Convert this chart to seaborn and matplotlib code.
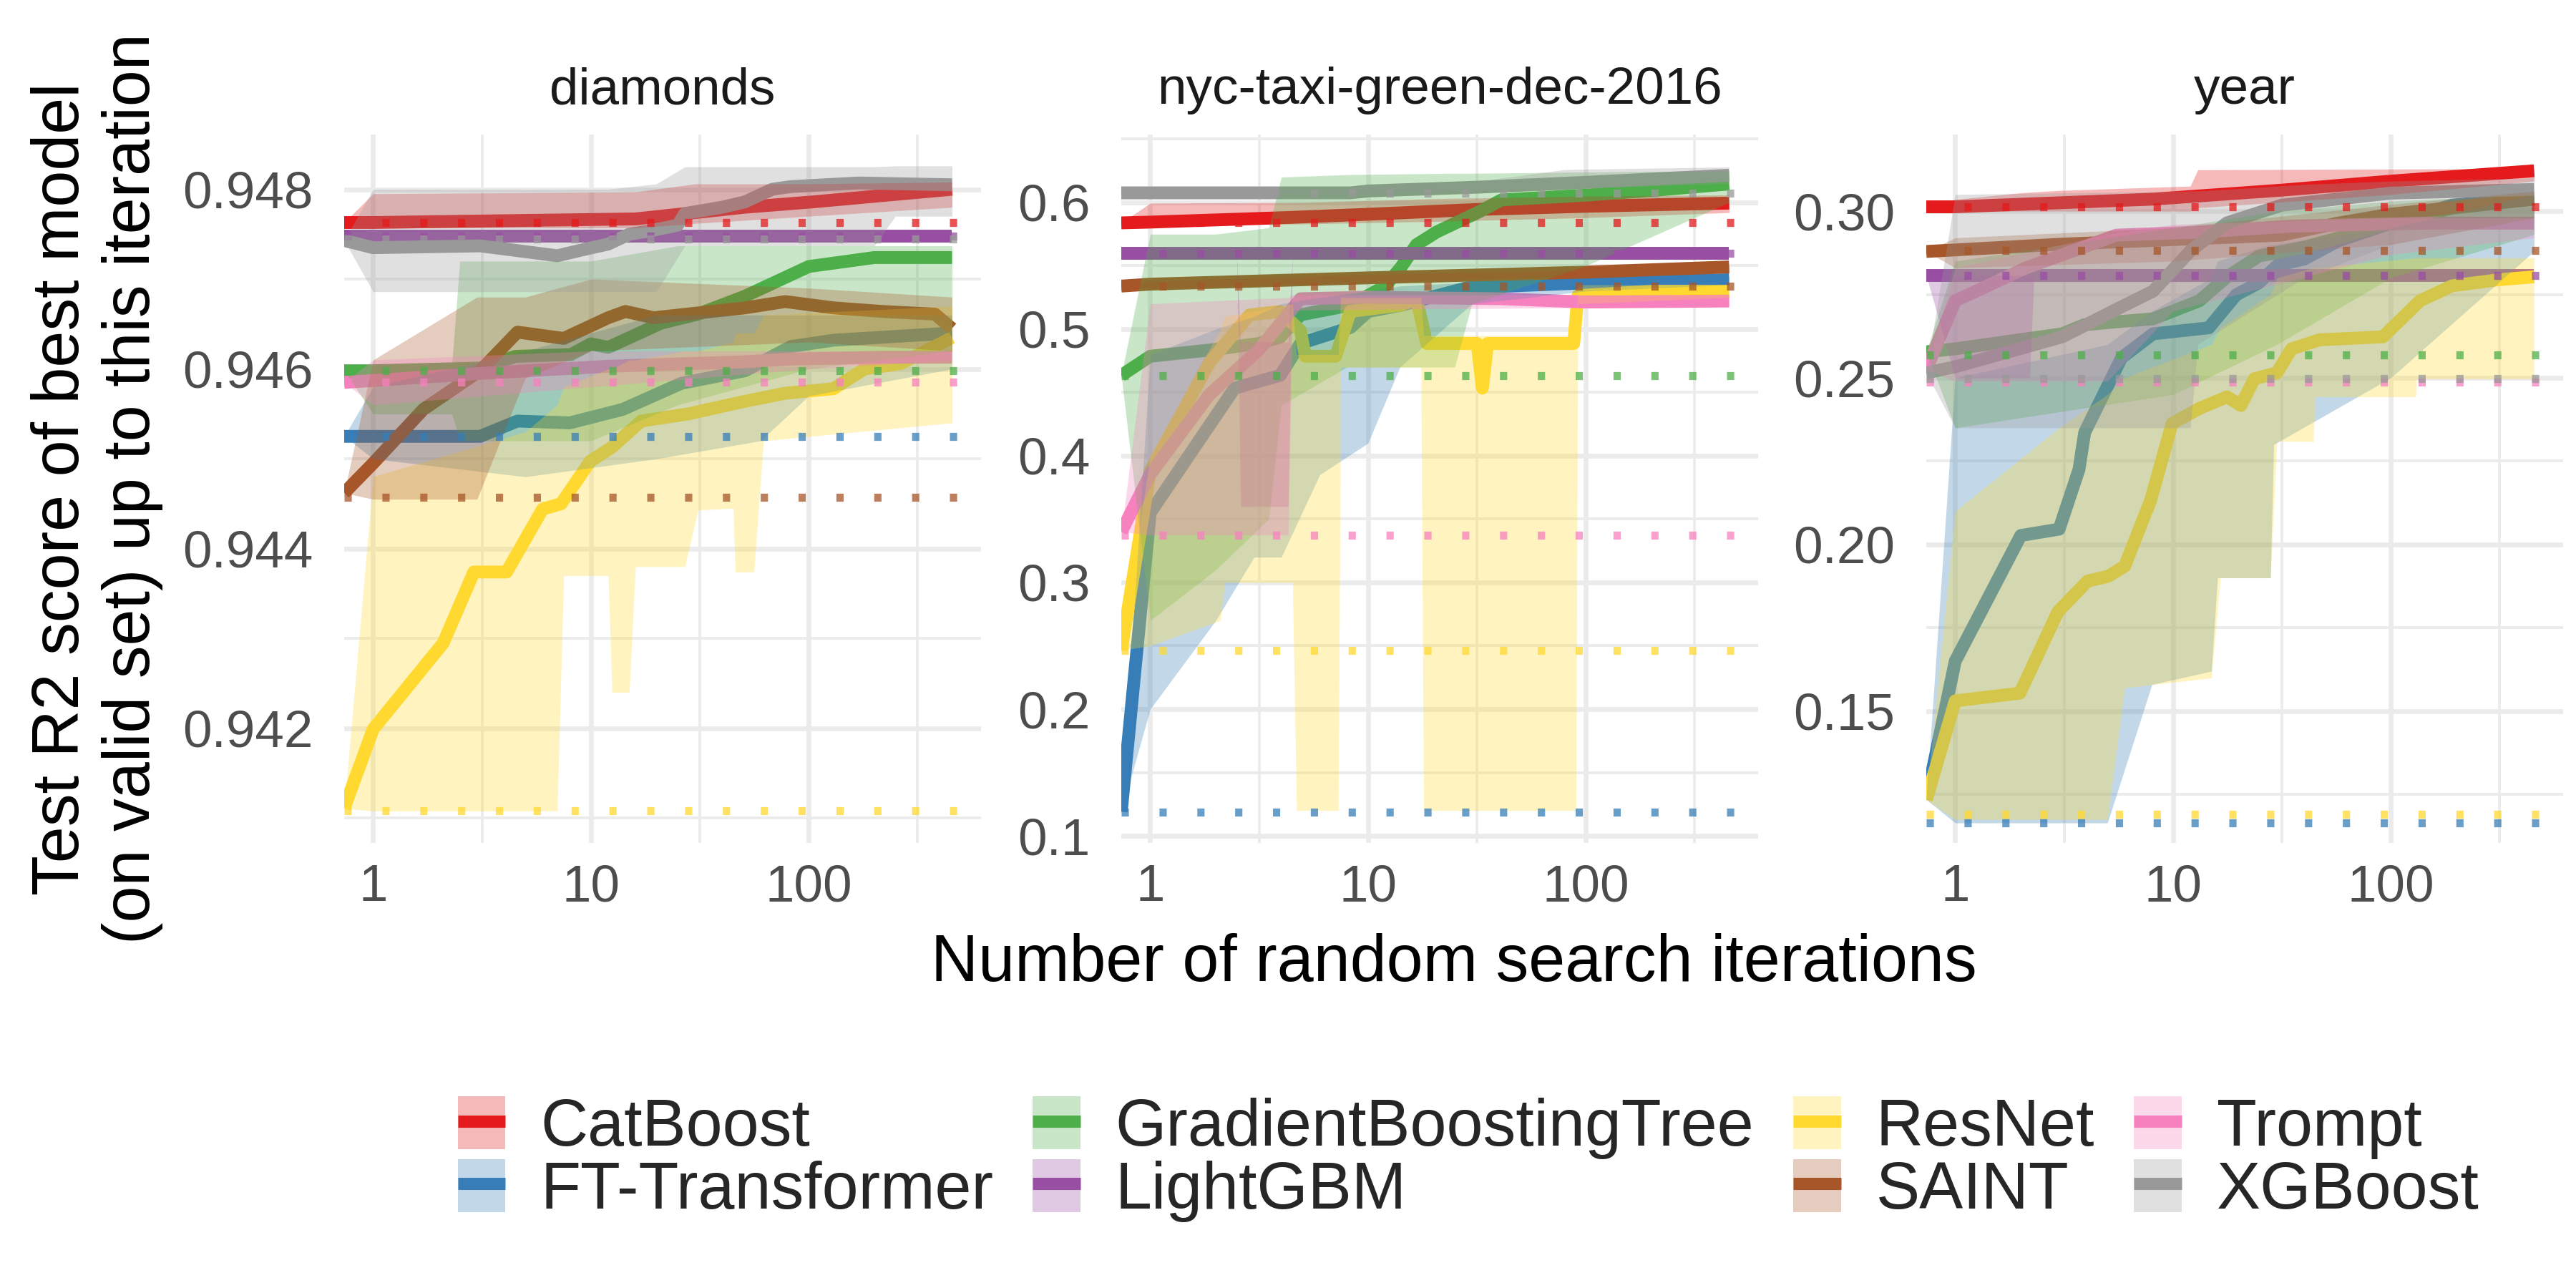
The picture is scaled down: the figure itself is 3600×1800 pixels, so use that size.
import matplotlib
matplotlib.use("Agg")
import matplotlib.pyplot as plt
from matplotlib.lines import Line2D
from matplotlib.patches import Patch
from matplotlib.ticker import FixedLocator, FixedFormatter, NullFormatter
import pandas as pd
import seaborn as sns

MODELS = ["CatBoost", "FT-Transformer", "GradientBoostingTree", "LightGBM",
          "ResNet", "SAINT", "Trompt", "XGBoost"]
COLORS = ["#E41A1C", "#377EB8", "#4DAF4A", "#984EA3",
          "#FFD92F", "#A65628", "#F781BF", "#999999"]
PANELS = ["diamonds", "nyc-taxi-green-dec-2016", "year"]

# (iteration, median test R2) ; iteration 0 = default config
DIAMONDS_LINE = {
    "CatBoost": [(0, .94763), (1, .94763), (16, .94767), (51, .9478), (105, .94786), (218, .94793), (455, .9480)],
    "FT-Transformer": [(0, .94525), (1, .94525), (3.1, .94525), (4.6, .94542), (8, .9454), (14, .94555),
                       (26, .94584), (51, .94598), (83, .94625), (130, .94632), (390, .94639), (455, .9464)],
    "GradientBoostingTree": [(0, .94598), (1, .94598), (3.1, .94601), (4.5, .94614), (8.1, .94616), (10, .94628),
                             (12, .94624), (21, .94651), (31, .94661), (51, .94681), (100, .94714), (200, .94724),
                             (455, .94724)],
    "LightGBM": [(0, .94748), (455, .94748)],
    "ResNet": [(0, .94111), (1, .94199), (2.1, .94295), (2.9, .94374), (4.1, .94374), (6, .94444), (7.3, .9445),
               (9.9, .94497), (12.5, .94513), (17, .94542), (28, .9455), (51, .94564), (78, .94573), (130, .94578),
               (180, .946), (265, .94606), (400, .94628), (455, .94635)],
    "SAINT": [(0, .94462), (1, .94495), (1.7, .94555), (3.1, .94598), (4.6, .94641), (7.5, .94634), (12, .94657),
              (14.4, .94664), (19.4, .94657), (51, .94668), (78, .94675), (130, .94668), (218, .94664),
              (380, .94661), (455, .94645)],
    "Trompt": [(0, .94585), (3.1, .94595), (12, .94603), (51, .94608), (83, .94611), (218, .94613), (455, .94613)],
    "XGBoost": [(0, .94743), (1, .94735), (3.1, .94737), (4.5, .94732), (7, .94726), (9.3, .94733), (12, .94739),
                (15, .9475), (19, .94754), (25, .9476), (27, .94773), (40, .9478), (51, .94786), (68, .948),
                (83, .94803), (170, .94807), (455, .94805)],
}
# (iteration, lower, upper)
DIAMONDS_BAND = {
    "CatBoost": [(0, .94763, .94763), (1, .94757, .94795), (16, .94757, .94797), (30, .94762, .94806),
                 (100, .9477, .94806), (455, .9478, .94808)],
    "FT-Transformer": [(0, .94525, .94525), (1, .945, .9458), (5, .9448, .9462), (20, .945, .9466),
                       (60, .9452, .9466), (100, .9457, .9466), (455, .946, .9466)],
    "GradientBoostingTree": [(0, .94598, .94598), (1, .9455, .94605), (2.3, .9455, .94605), (2.5, .9452, .9472),
                             (10, .9452, .9472), (25, .9456, .94737), (100, .946, .94737), (455, .9462, .94737)],
    "LightGBM": [(0, .94748, .94748), (455, .94748, .94748)],
    "ResNet": [(0, .94111, .94111), (1, .94108, .9448), (5, .94108, .9453), (7, .94108, .9456), (7.5, .9437, .9458),
               (12, .9437, .946), (12.5, .9424, .946), (15, .9424, .9461), (16, .9438, .9461), (27, .9438, .9462),
               (31, .94443, .9462), (45, .94445, .9463), (46, .94374, .9464), (56, .94374, .9464),
               (62, .9452, .9466), (455, .9454, .9467)],
    "SAINT": [(0, .94462, .94462), (1, .94455, .9461), (3, .94455, .9468), (5, .9459, .9468), (10, .9462, .947),
              (100, .9463, .9469), (455, .9462, .9468)],
    "Trompt": [(0, .94585, .94585), (1, .9456, .9461), (10, .9458, .9462), (100, .946, .9462), (455, .9461, .9462)],
    "XGBoost": [(0, .94743, .94743), (1, .94686, .948), (12, .94686, .948), (20, .94686, .94806),
                (27, .94737, .94825), (200, .94737, .94825), (250, .9477, .94826), (455, .9477, .94826)],
}
DIAMONDS_DEFAULT = [.94763, .94525, .94598, .94748, .94108, .94457, .94585, .94745]

NYC_LINE = {
    "CatBoost": [(0, .5839), (1, .5845), (4.4, .5882), (10, .5907), (32, .5945), (100, .597), (455, .5995)],
    "FT-Transformer": [(0, .119), (1, .355), (2.44, .4534), (3.95, .4635), (4.9, .4887), (8.3, .5013), (10, .5139),
                       (14.2, .5189), (28.5, .5327), (100, .5365), (455, .539)],
    "GradientBoostingTree": [(0, .4635), (1, .4786), (1.9, .4836), (3.15, .4887), (3.95, .4937), (4.9, .5113),
                             (8.3, .5189), (12, .534), (14.2, .5491), (16.7, .5667), (20.7, .5768), (31.7, .5919),
                             (41, .602), (100, .6058), (206, .6096), (455, .6146)],
    "LightGBM": [(0, .5597), (455, .5597)],
    "ResNet": [(0, .2465), (1, .388), (1.87, .4736), (2.86, .5113), (3.95, .5139), (4.9, .4987), (5.15, .4786),
               (7.1, .4786), (8.3, .514), (14.2, .519), (16.7, .524), (18.6, .4887), (31.7, .4887), (33.5, .4534),
               (35.4, .4887), (88, .4887), (92, .5265), (206, .53), (455, .53)],
    "SAINT": [(0, .534), (1, .5355), (10, .5405), (100, .545), (455, .5491)],
    "Trompt": [(0, .34), (1, .3854), (1.87, .4484), (3.15, .4836), (4.9, .524), (10, .5252), (41, .524),
               (100, .5214), (455, .5222)],
    "XGBoost": [(0, .6076), (1, .6076), (8.3, .6076), (10, .6091), (32, .6121), (100, .6159), (455, .6215)],
}
NYC_BAND = {
    "CatBoost": [(0, .5839, .5839), (1, .582, .5995), (5, .583, .6), (20, .585, .603), (100, .588, .605),
                 (455, .592, .606)],
    "FT-Transformer": [(0, .119, .119), (1, .2, .48), (2, .27, .5), (3, .32, .51), (4, .32, .52), (6, .385, .525),
                       (10, .41, .53), (14, .47, .534), (30, .52, .537), (100, .53, .54), (455, .535, .542)],
    "GradientBoostingTree": [(0, .4635, .4635), (1, .27, .575), (2, .31, .575), (3.5, .35, .58), (4, .44, .62),
                             (8, .47, .622), (25, .47, .623), (30, .52, .623), (100, .55, .624), (455, .6, .625)],
    "LightGBM": [(0, .5597, .5597), (2.5, .5597, .5597), (2.6, .36, .49), (4.3, .36, .49),
                 (4.5, .5597, .5597), (455, .5597, .5597)],
    "ResNet": [(0, .2465, .2465), (1, .25, .40), (2.1, .27, .50), (2.2, .30, .51), (4.5, .30, .52),
               (4.7, .12, .48), (7.3, .12, .48), (7.5, .47, .525), (17.5, .47, .525), (18, .12, .495),
               (90, .12, .495), (92, .52, .535), (455, .525, .535)],
    "SAINT": [(0, .534, .534), (1, .532, .538), (10, .537, .543), (100, .542, .547), (455, .546, .551)],
    "Trompt": [(0, .34, .34), (1, .3375, .52), (4.3, .3375, .525), (4.5, .515, .527), (455, .518, .527)],
    "XGBoost": [(0, .6076, .6076), (1, .607, .6085), (8, .607, .611), (10, .607, .614), (30, .609, .616),
                (80, .611, .626), (455, .615, .628)],
}
NYC_DEFAULT = [.5839, .1189, .4635, .5597, .2465, .534, .3375, .6076]

YEAR_LINE = {
    "CatBoost": [(0, .3013), (1, .3013), (8.1, .3036), (31.6, .3063), (100, .309), (455, .3121)],
    "FT-Transformer": [(0, .1235), (1, .165), (2, .2027), (3, .2046), (3.7, .2225), (3.93, .2336), (5.8, .256),
                       (8.1, .2632), (14.6, .265), (19.5, .2749), (24.8, .2785), (30.2, .2838), (40, .2856),
                       (57, .291), (100, .2964), (191, .3018), (455, .304)],
    "GradientBoostingTree": [(0, .2578), (1, .2587), (3.1, .2632), (3.9, .2659), (5.5, .2668), (8.1, .2677),
                             (13.2, .2731), (17.7, .2803), (24.8, .2865), (40, .2892), (57, .2919), (100, .2964),
                             (191, .3009), (455, .3036)],
    "LightGBM": [(0, .2807), (455, .2807)],
    "ResNet": [(0, .1234), (1, .1531), (1.98, .1554), (2.96, .1798), (4.05, .189), (5.05, .1905), (6, .1935),
               (7.9, .2133), (9.9, .2363), (13.2, .2408), (17.7, .2443), (20.5, .2417), (23.6, .2497), (30, .2515),
               (35, .2587), (47, .2614), (92, .2623), (112, .2677), (136, .2731), (191, .2776), (310, .2794),
               (455, .2803)],
    "SAINT": [(0, .2879), (3.1, .2901), (31.6, .2928), (57, .2964), (100, .2991), (243, .3018), (455, .3036)],
    "Trompt": [(0, .2525), (1, .2731), (2.1, .2829), (5.5, .2928), (13, .2937), (35, .2955), (150, .2964),
               (455, .2964)],
    "XGBoost": [(0, .2515), (1, .2533), (3.1, .2623), (5.8, .2713), (8.1, .276), (12, .288), (17.7, .2965),
                (31.6, .3018), (100, .3054), (455, .3065)],
}
YEAR_BAND = {
    "CatBoost": [(0, .3013, .3013), (1, .300, .3035), (2, .300, .3055), (3, .300, .3062), (12, .300, .3075),
                 (13, .301, .3124), (100, .305, .3126), (455, .309, .3128)],
    "FT-Transformer": [(0, .1235, .1235), (1, .1165, .25), (5, .1165, .26), (8, .158, .27), (15, .162, .28),
                       (16, .19, .285), (28, .19, .29), (29, .23, .29), (100, .25, .295), (455, .288, .305)],
    "GradientBoostingTree": [(0, .2578, .2578), (1, .235, .285), (10, .245, .295), (30, .26, .3),
                             (100, .28, .303), (455, .293, .305)],
    "LightGBM": [(0, .2807, .2807), (1, .25, .2807), (2.2, .25, .2807), (2.3, .2807, .2807), (455, .2807, .2807)],
    "ResNet": [(0, .1234, .1234), (1, .1175, .21), (3, .1175, .235), (5, .1175, .245), (6, .157, .25),
               (15, .16, .26), (16.5, .19, .265), (28, .19, .275), (30, .231, .28), (44, .2309, .283),
               (45, .2443, .283), (130, .2443, .286), (131, .2497, .286), (455, .2497, .286)],
    "SAINT": [(0, .2879, .2879), (1, .283, .292), (10, .285, .295), (100, .29, .302), (455, .298, .306)],
    "Trompt": [(0, .2525, .2525), (1, .249, .283), (5, .249, .293), (10, .27, .296), (100, .287, .298),
               (455, .292, .298)],
    "XGBoost": [(0, .2515, .2515), (1, .235, .305), (12, .235, .306), (13, .26, .306), (40, .28, .308),
                (100, .29, .309), (455, .298, .31)],
}
YEAR_DEFAULT = [.3013, .1165, .2569, .2807, .119, .2883, .2488, .2497]

X_MAX = 455
X_LO = X_MAX ** -0.05   # iteration 0 sits on the left panel edge (log scale)
X_HI = X_MAX ** 1.05

PALETTE = dict(zip(MODELS, COLORS))
GRID = "#EBEBEB"


def to_frame(lines):
    rows = []
    for m in MODELS:
        for x, y in lines[m]:
            rows.append((m, max(x, X_LO), y))
    return pd.DataFrame(rows, columns=["model", "iteration", "score"])


def draw_panel(ax, lines, bands, defaults, ylim, yticks, yminor, fmt, title):
    ax.set_xscale("log")
    df = to_frame(lines)
    sns.lineplot(data=df, x="iteration", y="score", hue="model", hue_order=MODELS,
                 palette=PALETTE, estimator=None, sort=False, lw=4.3,
                 solid_capstyle="butt", legend=False, ax=ax, zorder=2)
    for m in MODELS:
        b = bands[m]
        xs = [max(p[0], X_LO) for p in b]
        ax.fill_between(xs, [p[1] for p in b], [p[2] for p in b],
                        color=PALETTE[m], alpha=0.3, lw=0, zorder=3)
    for m, v in zip(MODELS, defaults):
        ax.axhline(v, color=PALETTE[m], lw=2.7, ls=(0, (0.9, 3.8)), alpha=0.75, zorder=4)

    ax.set_xlim(X_LO, X_HI)
    ax.set_ylim(*ylim)
    ax.xaxis.set_major_locator(FixedLocator([1, 10, 100]))
    ax.xaxis.set_major_formatter(FixedFormatter(["1", "10", "100"]))
    ax.xaxis.set_minor_locator(FixedLocator([10 ** 0.5, 10 ** 1.5, 10 ** 2.5]))
    ax.xaxis.set_minor_formatter(NullFormatter())
    ax.yaxis.set_major_locator(FixedLocator(yticks))
    ax.yaxis.set_major_formatter(FixedFormatter([fmt % t for t in yticks]))
    ax.yaxis.set_minor_locator(FixedLocator(yminor))
    ax.yaxis.set_minor_formatter(NullFormatter())

    ax.set_axisbelow(True)
    ax.grid(which="major", color=GRID, lw=1.6)
    ax.grid(which="minor", color=GRID, lw=0.9)
    for s in ax.spines.values():
        s.set_visible(False)
    ax.tick_params(axis="both", which="both", length=0, labelsize=17.5, labelcolor="#4D4D4D")
    ax.tick_params(axis="y", pad=10.5)
    ax.tick_params(axis="x", pad=7)
    ax.set_xlabel("")
    ax.set_ylabel("")
    ax.set_title(title, fontsize=17.5, color="#1A1A1A", pad=10.3)


sns.set_theme(style="white")
plt.rcParams["font.family"] = ["Liberation Sans", "DejaVu Sans"]

fig = plt.figure(figsize=(12, 6), dpi=300)
lefts = [481 / 3600, 1567 / 3600, 2692 / 3600]
axes = [fig.add_axes([l, 0.3456, 0.2472, 0.55]) for l in lefts]

draw_panel(axes[0], DIAMONDS_LINE, DIAMONDS_BAND, DIAMONDS_DEFAULT, (0.940725, 0.94861),
           [0.942, 0.944, 0.946, 0.948], [0.941, 0.943, 0.945, 0.947], "%.3f", PANELS[0])
draw_panel(axes[1], NYC_LINE, NYC_BAND, NYC_DEFAULT, (0.0944, 0.6537),
           [0.1, 0.2, 0.3, 0.4, 0.5, 0.6], [0.15, 0.25, 0.35, 0.45, 0.55, 0.65], "%.1f", PANELS[1])
draw_panel(axes[2], YEAR_LINE, YEAR_BAND, YEAR_DEFAULT, (0.1105, 0.323),
           [0.15, 0.20, 0.25, 0.30], [0.125, 0.175, 0.225, 0.275], "%.2f", PANELS[2])

fig.text(0.5643, 0.2517, "Number of random search iterations", ha="center", va="center",
         fontsize=22, color="black")
fig.text(0.0377, 0.6206, "Test R2 score of best model\n(on valid set) up to this iteration",
         rotation=90, ha="center", va="center", multialignment="center", fontsize=22,
         color="black", linespacing=1.2)

handles = [(Patch(facecolor=c, alpha=0.3, lw=0), Line2D([], [], color=c, lw=4.1, solid_capstyle="butt"))
           for c in COLORS]
fig.legend(handles, MODELS, ncol=4, loc="center", bbox_to_anchor=(0.57, 0.1), frameon=False,
           fontsize=22, handlelength=0.73, handleheight=0.87, handletextpad=0.53,
           columnspacing=0.6, labelspacing=0.0, borderpad=0)

fig.savefig("out.png", dpi=300)
